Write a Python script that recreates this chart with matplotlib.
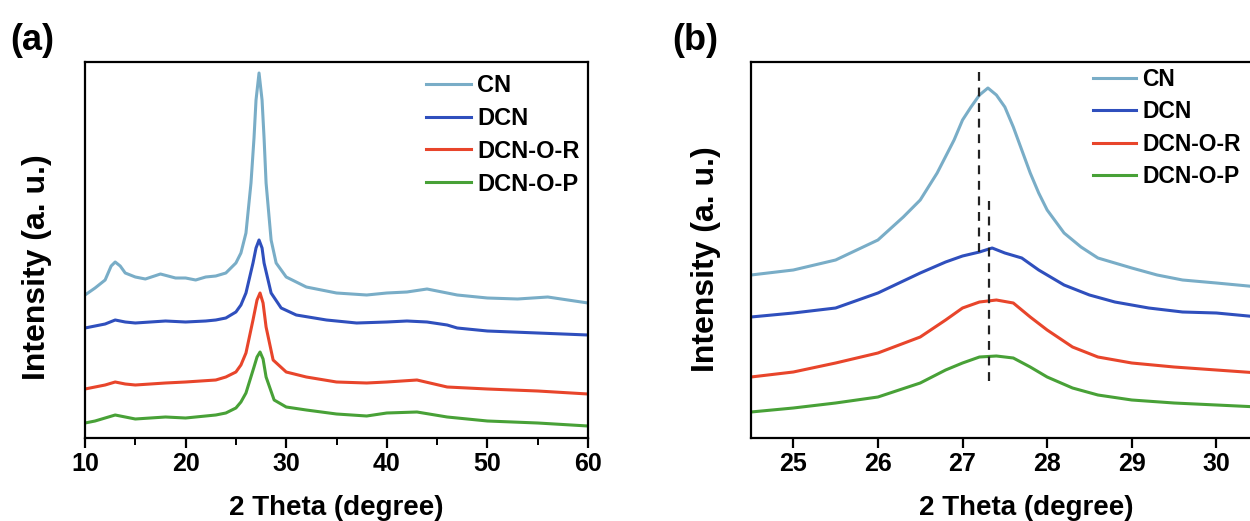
import numpy as np
import matplotlib
matplotlib.use('Agg')
import matplotlib.pyplot as plt

plt.rcParams['font.family'] = ['Liberation Sans', 'DejaVu Sans']
plt.rcParams['font.weight'] = 'bold'

# ---- data (arbitrary intensity units) ----
labels = ['CN', 'DCN', 'DCN-O-R', 'DCN-O-P']
colors = ['#79adc7', '#2f4fbd', '#e8452b', '#48a137']

# panel (a): full range 10-60 deg
a_cn_x = [10, 11, 12, 12.6, 13, 13.5, 14, 15, 16, 17.5, 19, 20, 21, 22, 23, 24, 25, 25.5,
          26, 26.5, 26.8, 27.0, 27.3, 27.6, 27.8, 28.0, 28.5, 29, 30, 31, 32, 35, 38, 40,
          42, 44, 46, 47, 50, 53, 56, 58, 60]
a_cn_y = [143, 150, 158, 172, 176, 172, 165, 161, 159, 164, 160, 160, 158, 161, 162, 165, 175, 185,
          205, 255, 300, 338, 365, 338, 300, 255, 198, 175, 161, 156, 151, 145, 143, 145,
          146, 149, 145, 143, 140, 139, 141, 138, 135]

a_dcn_x = [10, 11, 12, 13, 14, 15, 18, 20, 22, 23, 24, 25, 25.5, 26, 26.7, 27.0, 27.3, 27.6,
           27.8, 28.5, 29.5, 31, 34, 37, 40, 42, 44, 46, 47, 50, 55, 60]
a_dcn_y = [110, 112, 114, 118, 116, 115, 117, 116, 117, 118, 120, 126, 133, 145, 175, 190, 198, 190,
           175, 145, 130, 123, 118, 115, 116, 117, 116, 113, 110, 107, 105, 103]

a_r_x = [10, 11, 12, 13, 14, 15, 18, 20, 23, 24, 25, 25.5, 26, 26.7, 27.1, 27.4, 27.7, 28,
         28.7, 30, 32, 35, 38, 40, 43, 46, 50, 55, 60]
a_r_y = [49, 51, 53, 56, 54, 53, 55, 56, 58, 61, 66, 73, 85, 118, 138, 145, 135, 111,
         78, 66, 61, 56, 55, 56, 58, 51, 49, 47, 44]

a_p_x = [10, 11, 12, 13, 14, 15, 18, 20, 23, 24, 25, 25.5, 26, 26.8, 27.1, 27.4, 27.7, 28,
         28.8, 30, 32, 35, 38, 40, 43, 46, 50, 55, 60]
a_p_y = [15, 17, 20, 23, 21, 19, 21, 20, 23, 25, 30, 36, 45, 71, 81, 86, 79, 61,
         38, 31, 28, 24, 22, 25, 26, 21, 17, 15, 12]

# panel (b): zoom on the (002) peak
b_cn_x = [24.5, 25, 25.5, 26, 26.3, 26.5, 26.7, 26.9, 27.0, 27.1, 27.2, 27.3, 27.4, 27.5,
          27.6, 27.7, 27.8, 27.9, 28.0, 28.2, 28.4, 28.6, 28.8, 29.0, 29.3, 29.6, 30.0, 30.5]
b_cn_y = [163, 168, 178, 198, 221, 238, 265, 298, 318, 331, 343, 350, 343, 331,
          311, 288, 265, 245, 228, 205, 191, 180, 175, 170, 163, 158, 155, 151]

b_dcn_x = [24.5, 25, 25.5, 26, 26.5, 26.8, 27.0, 27.2, 27.35, 27.5, 27.7, 27.9, 28.2, 28.5,
           28.8, 29.2, 29.6, 30.0, 30.5]
b_dcn_y = [121, 125, 130, 145, 165, 176, 182, 186, 190, 185, 180, 168, 153, 143,
           136, 130, 126, 125, 121]

b_r_x = [24.5, 25, 25.5, 26, 26.5, 26.8, 27.0, 27.2, 27.4, 27.6, 27.8, 28.0, 28.3, 28.6,
         29.0, 29.5, 30.0, 30.5]
b_r_y = [61, 66, 75, 85, 101, 118, 130, 136, 138, 135, 121, 108, 91, 81,
         75, 71, 68, 65]

b_p_x = [24.5, 25, 25.5, 26, 26.5, 26.8, 27.0, 27.2, 27.4, 27.6, 27.8, 28.0, 28.3, 28.6,
         29.0, 29.5, 30.0, 30.5]
b_p_y = [26, 30, 35, 41, 55, 68, 75, 81, 82, 80, 71, 61, 50, 43,
         38, 35, 33, 31]

# reference peak positions (dashed guides) and their vertical spans
guide_x = [27.2, 27.31]
guide_lo = [186, 57]
guide_hi = [370, 242]

a_series = [(a_cn_x, a_cn_y), (a_dcn_x, a_dcn_y), (a_r_x, a_r_y), (a_p_x, a_p_y)]
b_series = [(b_cn_x, b_cn_y), (b_dcn_x, b_dcn_y), (b_r_x, b_r_y), (b_p_x, b_p_y)]

fig = plt.figure(figsize=(12.5, 5.21), dpi=100)
axa = fig.add_axes([85/1250, 83/521, 503/1250, 376/521])
axb = fig.add_axes([751/1250, 83/521, 550/1250, 376/521])


def style(ax, ylab_x, ylab_y):
    for s in ax.spines.values():
        s.set_linewidth(1.6)
    ax.set_yticks([])
    ax.tick_params(axis='x', which='major', direction='out', length=7, width=1.6,
                   labelsize=18, pad=3)
    ax.tick_params(axis='x', which='minor', direction='out', length=5, width=1.4)
    for t in ax.get_xticklabels():
        t.set_fontweight('bold')
    ax.set_xlabel('2 Theta (degree)', fontsize=20, fontweight='bold', labelpad=14)
    ax.set_ylabel('Intensity (a. u.)', fontsize=23, fontweight='bold')
    ax.yaxis.set_label_coords(ylab_x, ylab_y)
    ax.set_ylim(0, 376)


def legend(ax, x0, y0, size):
    ax.legend(loc='upper left', bbox_to_anchor=(x0, y0), frameon=False,
              prop={'size': size, 'weight': 'bold'}, handlelength=1.9,
              handletextpad=0.25, labelspacing=0.42)


for (x, y), c, l in zip(a_series, colors, labels):
    axa.plot(x, y, color=c, lw=2.2, label=l)
axa.set_xlim(10, 60)
axa.set_xticks([10, 20, 30, 40, 50, 60])
axa.set_xticks(np.arange(15, 60, 10), minor=True)
style(axa, -0.066, 0.455)
legend(axa, 0.636, 1.025, 17)

for (x, y), c, l in zip(b_series, colors, labels):
    axb.plot(x, y, color=c, lw=2.2, label=l)
for gx, lo, hi in zip(guide_x, guide_lo, guide_hi):
    axb.plot([gx, gx], [lo, hi], color='#222222', lw=1.6, ls=(0, (4, 3)))
axb.set_xlim(24.5, 31)
axb.set_xticks([25, 26, 27, 28, 29, 30])
axb.set_xticks(np.arange(24.5, 31, 0.5)[1::2], minor=True)
style(axb, -0.055, 0.475)
legend(axb, 0.584, 1.04, 16.5)

fig.text(10/1250, 1 - 40/521, '(a)', fontsize=26, fontweight='bold', va='center')
fig.text(672/1250, 1 - 40/521, '(b)', fontsize=26, fontweight='bold', va='center')

fig.savefig('out.png', dpi=100)
